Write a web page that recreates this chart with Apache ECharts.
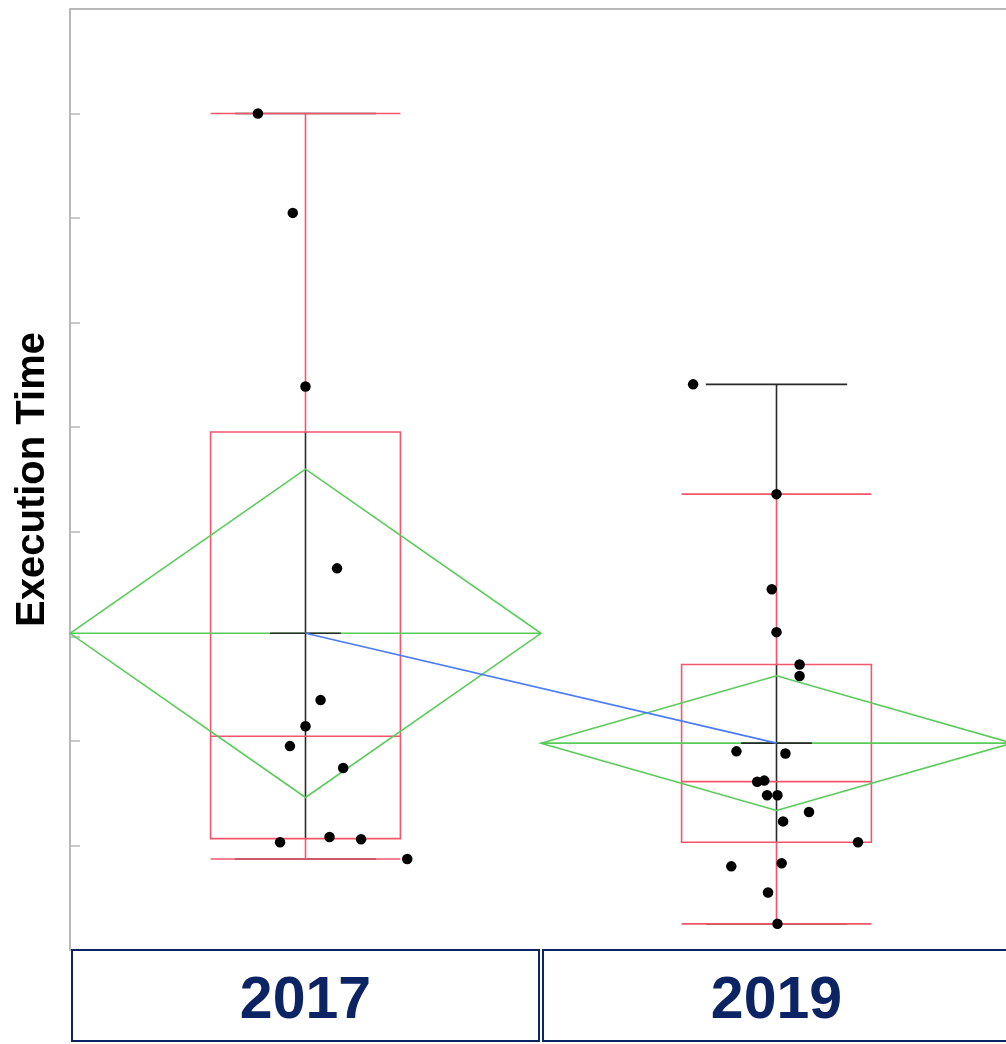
<!DOCTYPE html>
<html>
<head>
<meta charset="utf-8">
<title>Execution Time by Year</title>
<script src="https://cdn.jsdelivr.net/npm/echarts@6/dist/echarts.min.js"></script>
<style>
  html, body { margin: 0; padding: 0; background: #ffffff; }
  #chart { width: 1006px; height: 1044px; }
</style>
</head>
<body>
<div id="chart"></div>
<script>
// ---- Data -------------------------------------------------------------
const years = ['2017', '2019'];

const times2017  = [8.00, 7.05, 5.39, 3.65, 2.39, 2.14, 1.95, 1.74, 1.03, 1.08, 1.06, 0.87];
const jitter2017 = [-0.101, -0.027, 0.000, 0.067, 0.032, 0.000, -0.033, 0.080, -0.054, 0.051, 0.118, 0.216];

const times2019  = [5.41, 4.36, 3.45, 3.04, 2.73, 2.62, 1.90, 1.88, 1.61, 1.62, 1.48, 1.48, 1.32, 1.23, 1.03, 0.80, 0.83, 0.55, 0.25];
const jitter2019 = [-0.177, 0.000, -0.010, 0.000, 0.049, 0.049, -0.085, 0.019, -0.041, -0.026, -0.020, 0.002, 0.069, 0.014, 0.173, -0.096, 0.011, -0.018, 0.002];

const yMin = 0;
const yMax = 9;
const yStep = 1;

// ---- Styling ----------------------------------------------------------
const RED = '#f2566c';
const GREEN = '#58cc58';
const BLUE = '#4a7bff';
const INK = '#2a2a2a';
const NAVY = '#0c2364';
const GRAY = '#b8b8b8';

const BOX_W = 0.403;        // box width, in category units
const RANGE_CAP_W = 0.30;   // min/max cap width
const MEAN_TICK_W = 0.15;   // short mark at the mean

// ---- Summary statistics ----------------------------------------------
function quantile(sorted, p) {
  const n = sorted.length;
  const pos = p * (n + 1);
  if (pos <= 1) return sorted[0];
  if (pos >= n) return sorted[n - 1];
  const lo = Math.floor(pos);
  const frac = pos - lo;
  return sorted[lo - 1] + frac * (sorted[lo] - sorted[lo - 1]);
}

// two-sided 95% Student t critical value (Cornish-Fisher expansion)
function tCrit(df) {
  const z = 1.959964;
  const z3 = z * z * z, z5 = z3 * z * z, z7 = z5 * z * z;
  return z
    + (z3 + z) / (4 * df)
    + (5 * z5 + 16 * z3 + 3 * z) / (96 * df * df)
    + (3 * z7 + 19 * z5 + 17 * z3 - 15 * z) / (384 * df * df * df);
}

function summarize(values) {
  const s = values.slice().sort((a, b) => a - b);
  const n = s.length;
  const mean = s.reduce((a, b) => a + b, 0) / n;
  const sd = Math.sqrt(s.reduce((a, v) => a + (v - mean) * (v - mean), 0) / (n - 1));
  const q1 = quantile(s, 0.25), med = quantile(s, 0.5), q3 = quantile(s, 0.75);
  const iqr = q3 - q1;
  const inside = s.filter(v => v >= q1 - 1.5 * iqr && v <= q3 + 1.5 * iqr);
  return {
    n, mean, q1, med, q3,
    min: s[0], max: s[n - 1],
    whiskLo: inside[0], whiskHi: inside[inside.length - 1],
    half: tCrit(n - 1) * sd / Math.sqrt(n)
  };
}

const groups = [times2017, times2019];
const jitters = [jitter2017, jitter2019];
const stats = groups.map(summarize);

const meanData = stats.map((s, g) => [g, s.mean]);
const pointData = [];
groups.forEach((vals, g) => vals.forEach((v, i) => pointData.push([g + jitters[g][i], v])));

// ---- Renderers --------------------------------------------------------
function seg(x1, y1, x2, y2, color, w) {
  return { type: 'line', shape: { x1, y1, x2, y2 }, style: { stroke: color, lineWidth: w, fill: null } };
}

// min-to-max range line with caps; the stretches hidden under the
// red whiskers are left out so the whiskers stay a clean colour
function renderRange(params, api) {
  const g = params.dataIndex, s = stats[g];
  const x = api.coord([g, 0])[0];
  const y = v => api.coord([g, v])[1];
  const h = api.size([RANGE_CAP_W, 0])[0] / 2;
  const parts = [
    seg(x, y(s.q3), x, y(s.q1), INK, 1.6),
    seg(x - h, y(s.max), x + h, y(s.max), INK, 1.6),
    seg(x - h, y(s.min), x + h, y(s.min), INK, 1.6)
  ];
  if (s.max > s.whiskHi) parts.push(seg(x, y(s.max), x, y(s.whiskHi), INK, 1.6));
  if (s.min < s.whiskLo) parts.push(seg(x, y(s.whiskLo), x, y(s.min), INK, 1.6));
  return { type: 'group', children: parts };
}

function renderBox(params, api) {
  const g = params.dataIndex, s = stats[g];
  const h = api.size([BOX_W, 0])[0] / 2;
  const x = api.coord([g, 0])[0];
  const yQ1 = api.coord([g, s.q1])[1];
  const yQ3 = api.coord([g, s.q3])[1];
  const yMed = api.coord([g, s.med])[1];
  const yLo = api.coord([g, s.whiskLo])[1];
  const yHi = api.coord([g, s.whiskHi])[1];
  return { type: 'group', children: [
    { type: 'rect', shape: { x: x - h, y: yQ3, width: 2 * h, height: yQ1 - yQ3 },
      style: { stroke: RED, lineWidth: 1.6, fill: null } },
    seg(x - h, yMed, x + h, yMed, RED, 1.6),
    seg(x, yQ3, x, yHi, RED, 1.6),
    seg(x, yQ1, x, yLo, RED, 1.6),
    seg(x - h, yHi, x + h, yHi, RED, 1.6),
    seg(x - h, yLo, x + h, yLo, RED, 1.6)
  ] };
}

function renderDiamond(params, api) {
  const g = params.dataIndex, s = stats[g];
  const L = api.coord([g - 0.5, s.mean]);
  const R = api.coord([g + 0.5, s.mean]);
  const T = api.coord([g, s.mean + s.half]);
  const B = api.coord([g, s.mean - s.half]);
  return { type: 'group', children: [
    { type: 'polygon', shape: { points: [L, T, R, B] },
      style: { stroke: GREEN, lineWidth: 1.6, fill: null } },
    seg(L[0], L[1], R[0], R[1], GREEN, 1.6)
  ] };
}

function renderMeanTick(params, api) {
  const g = params.dataIndex, s = stats[g];
  const c = api.coord([g, s.mean]);
  const h = api.size([MEAN_TICK_W, 0])[0] / 2;
  return seg(c[0] - h, c[1], c[0] + h, c[1], INK, 1.6);
}

// ---- Chart ------------------------------------------------------------
const chart = echarts.init(document.getElementById('chart'), null, { renderer: 'canvas' });

chart.setOption({
  animation: false,
  backgroundColor: '#ffffff',
  grid: { left: 70, top: 9, width: 942, height: 941, outerBoundsMode: 'none', containLabel: false },
  xAxis: [
    {
      type: 'category',
      data: years,
      position: 'bottom',
      boundaryGap: true,
      axisLine: { show: false },
      axisTick: { show: false },
      splitLine: { show: false },
      axisLabel: {
        interval: 0,
        margin: 0,
        color: NAVY,
        fontFamily: '"Liberation Sans", Arial, sans-serif',
        fontWeight: 'bold',
        fontSize: 59,
        width: 467,
        height: 79,
        lineHeight: 79,
        padding: [12, 0, 0, 0],
        align: 'center',
        verticalAlign: 'top',
        borderColor: NAVY,
        borderWidth: 2
      }
    },
    {
      type: 'value',
      min: -0.5,
      max: 1.5,
      position: 'top',
      axisLine: { show: true, onZero: false, lineStyle: { color: GRAY, width: 2 } },
      axisTick: { show: false },
      axisLabel: { show: false },
      splitLine: { show: false }
    }
  ],
  yAxis: {
    type: 'value',
    min: yMin,
    max: yMax,
    interval: yStep,
    name: 'Execution Time',
    nameLocation: 'middle',
    nameRotate: 90,
    nameGap: 17,
    nameTextStyle: {
      color: '#000000',
      fontFamily: '"Liberation Sans", Arial, sans-serif',
      fontWeight: 'bold',
      fontSize: 40
    },
    axisLine: { show: true, onZero: false, lineStyle: { color: GRAY, width: 2 } },
    axisTick: { show: true, inside: true, length: 10, lineStyle: { color: GRAY, width: 1.5 } },
    axisLabel: { show: false },
    splitLine: { show: false }
  },
  series: [
    { type: 'custom', name: 'Range', xAxisIndex: 1, z: 2, data: meanData, renderItem: renderRange },
    { type: 'custom', name: 'Box', xAxisIndex: 1, z: 3, data: meanData, renderItem: renderBox },
    { type: 'custom', name: 'Mean diamond', xAxisIndex: 1, z: 4, data: meanData, renderItem: renderDiamond },
    { type: 'custom', name: 'Mean', xAxisIndex: 1, z: 5, data: meanData, renderItem: renderMeanTick },
    {
      type: 'line', name: 'Means', xAxisIndex: 1, z: 6, data: meanData,
      symbol: 'none', lineStyle: { color: BLUE, width: 1.6 }
    },
    {
      type: 'scatter', name: 'Execution Time', xAxisIndex: 1, z: 7, data: pointData,
      symbol: 'circle', symbolSize: 10.5, itemStyle: { color: '#000000', opacity: 1 }
    }
  ]
});
</script>
</body>
</html>
